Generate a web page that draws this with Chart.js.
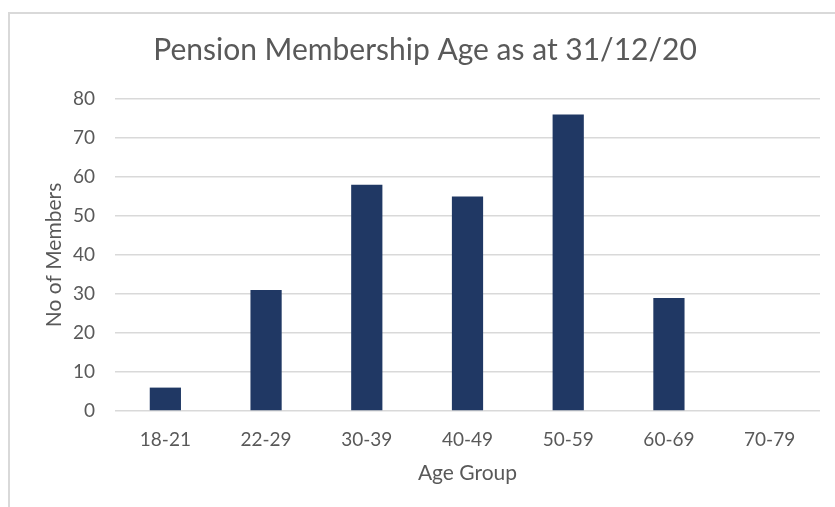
<!DOCTYPE html>
<html>
<head>
<meta charset="utf-8">
<script src="https://cdn.jsdelivr.net/npm/chart.js@4.4.1/dist/chart.umd.min.js"></script>
<style>
  html, body { margin: 0; padding: 0; background: #fff; }
  body { width: 835px; height: 507px; position: relative; overflow: hidden; }
  #frame {
    position: absolute; left: 8px; top: 12px;
    width: 900px; height: 600px;
    border: 2px solid #d9d9d9; box-sizing: border-box;
  }
  #wrap { position: absolute; left: 0; top: 0; width: 835px; height: 507px; }
</style>
</head>
<body>
<div id="frame"></div>
<div id="wrap"><canvas id="ageChart" width="835" height="507"></canvas></div>
<script>
// members per age band
const ageGroups = ["18-21", "22-29", "30-39", "40-49", "50-59", "60-69", "70-79"];
const memberCounts = [6, 31, 58, 55, 76, 29, 0];
const yTicks = [0, 10, 20, 30, 40, 50, 60, 70, 80];

const textGrey = "#595959";
const fontFamily = "Lato, 'Open Sans', sans-serif";

const ctx = document.getElementById("ageChart").getContext("2d");

new Chart(ctx, {
  type: "bar",
  data: {
    labels: ageGroups,
    datasets: [
      {
        label: "No of Members",
        data: memberCounts,
        backgroundColor: "#203864",
        barPercentage: 0.31,
        categoryPercentage: 1
      }
    ]
  },
  options: {
    responsive: false,
    animation: false,
    layout: { padding: { left: 30, right: 15, top: 0, bottom: 21 } },
    plugins: {
      legend: { display: false },
      tooltip: { enabled: false },
      title: {
        display: true,
        text: "Pension Membership Age as at 31/12/20",
        color: textGrey,
        font: { family: fontFamily, size: 30, weight: "normal" },
        padding: { top: 32, bottom: 31 }
      }
    },
    scales: {
      x: {
        afterFit: (axis) => {
          axis.height = 75;
        },
        grid: { display: false, drawTicks: false },
        border: { display: false },
        ticks: {
          color: textGrey,
          font: { family: fontFamily, size: 19 },
          padding: 17
        },
        title: {
          display: true,
          text: "Age Group",
          color: textGrey,
          font: { family: fontFamily, size: 21 },
          padding: { top: 10, bottom: 0 }
        }
      },
      y: {
        min: 0,
        max: 80,
        afterBuildTicks: (axis) => {
          axis.ticks = yTicks.map(v => ({ value: v }));
        },
        afterFit: (axis) => {
          axis.width = 85;
        },
        grid: { color: "#d9d9d9", lineWidth: 1.5, drawTicks: false },
        border: { display: false },
        ticks: {
          color: textGrey,
          font: { family: fontFamily, size: 19 },
          padding: 20
        },
        title: {
          display: true,
          text: "No of Members",
          color: textGrey,
          font: { family: fontFamily, size: 21 },
          padding: { top: 12, bottom: 0 }
        }
      }
    }
  }
});
</script>
</body>
</html>
